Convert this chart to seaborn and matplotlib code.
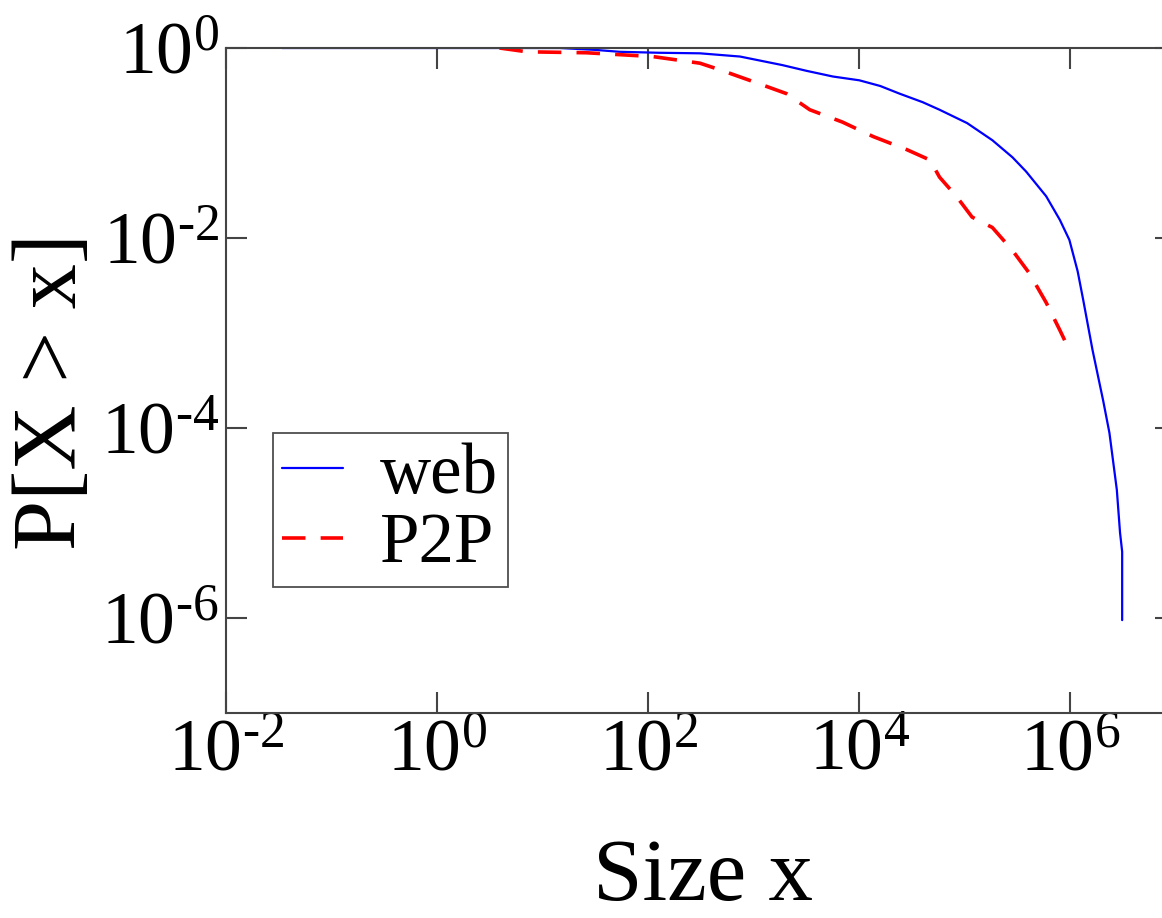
import matplotlib
matplotlib.use("Agg")
import matplotlib.pyplot as plt
import matplotlib.ticker as mticker
import numpy as np
import pandas as pd
import seaborn as sns

# CCDF readings
web_size = [0.034, 1, 10, 14.5, 31.6, 53.7, 126, 309, 741, 1862, 3160, 5620,
            1.0e4, 1.58e4, 2.4e4, 3.98e4, 5.75e4, 1.05e5, 1.82e5, 2.82e5, 3.8e5,
            5.89e5, 7.94e5, 9.77e5, 1.17e6, 1.32e6, 1.62e6, 2.04e6, 2.34e6,
            2.75e6, 2.95e6, 3.09e6, 3.09e6]
web_prob = [1, 1, 1, 1, 0.955, 0.912, 0.891, 0.879, 0.813, 0.661, 0.575, 0.501,
            0.457, 0.398, 0.331, 0.269, 0.224, 0.162, 0.107, 0.0708, 0.0501,
            0.0275, 0.0155, 0.00955, 0.00447, 0.00224, 6.6e-4, 1.95e-4, 8.9e-5,
            2.24e-5, 7.9e-6, 5.0e-6, 9.5e-7]

p2p_size = [3.9, 7.1, 26, 110, 309, 479, 912, 2040, 3390, 6920, 1.35e4, 2.82e4,
            4.68e4, 5.75e4, 8.3e4, 1.17e5, 1.82e5, 2.82e5, 4.07e5, 5.89e5,
            7.94e5, 9.77e5]
p2p_prob = [1.0, 0.912, 0.891, 0.813, 0.692, 0.589, 0.457, 0.331, 0.224, 0.166,
            0.117, 0.0851, 0.0661, 0.0437, 0.0275, 0.0166, 0.0129, 0.00741,
            0.00427, 0.00209, 0.00107, 6.6e-4]

x_ticks = [1e-2, 1e0, 1e2, 1e4, 1e6]
y_ticks = [1e-6, 1e-4, 1e-2, 1e0]

sns.set_theme(style="ticks")
plt.rcParams["font.family"] = ["Liberation Serif", "DejaVu Serif"]
plt.rcParams["mathtext.default"] = "regular"
plt.rcParams["text.color"] = "black"
plt.rcParams["axes.labelcolor"] = "black"

web = pd.DataFrame({"size": web_size, "prob": web_prob})
p2p = pd.DataFrame({"size": p2p_size, "prob": p2p_prob})

fig = plt.figure(figsize=(11.62, 9.18), dpi=100)
ax = fig.add_axes([226 / 1162, 1 - 713 / 918, 950 / 1162, 665 / 918])

sns.lineplot(data=web, x="size", y="prob", color="#0000ff", linewidth=1.6,
             estimator=None, sort=False, label="web", ax=ax)
sns.lineplot(data=p2p, x="size", y="prob", color="#ff0000", linewidth=2.6,
             estimator=None, sort=False, label="P2P", ax=ax)
ax.lines[1].set_dashes((6.5, 4.2))

ax.set_xscale("log")
ax.set_yscale("log")
ax.set_xlim(1e-2, 1e7)
ax.set_ylim(1e-7, 1)
ax.set_xticks(x_ticks)
ax.set_yticks(y_ticks)
ax.xaxis.set_minor_locator(mticker.NullLocator())
ax.yaxis.set_minor_locator(mticker.NullLocator())

fmt = mticker.FuncFormatter(
    lambda v, p: r"$\mathregular{10^{%s}}$" % str(int(round(np.log10(v)))).replace("-", "\u2010"))
ax.xaxis.set_major_formatter(fmt)
ax.yaxis.set_major_formatter(fmt)

ax.tick_params(axis="both", which="major", direction="in", length=15, width=1.5,
               color="#444444", labelsize=53, labelcolor="black", top=True, right=True)
ax.tick_params(axis="x", pad=4)
ax.tick_params(axis="y", pad=5)
for sp in ax.spines.values():
    sp.set_linewidth(1.5)
    sp.set_color("#444444")

ax.set_xlabel("Size x", fontsize=64, color="black")
ax.set_ylabel("P[X > x]", fontsize=65, color="black")
ax.xaxis.set_label_coords(0.502, -0.188)
ax.yaxis.set_label_coords(-0.138, 0.484)

leg = ax.legend(loc="lower left", bbox_to_anchor=(0.049, 0.189), borderaxespad=0,
                fontsize=51, frameon=True, fancybox=False, handlelength=0.85,
                handletextpad=0.52, borderpad=0.14, labelspacing=0.06)
leg.get_frame().set_edgecolor("#222222")
leg.get_frame().set_linewidth(1.3)
for t in leg.get_texts():
    t.set_color("black")

fig.savefig("out.png", dpi=100)
